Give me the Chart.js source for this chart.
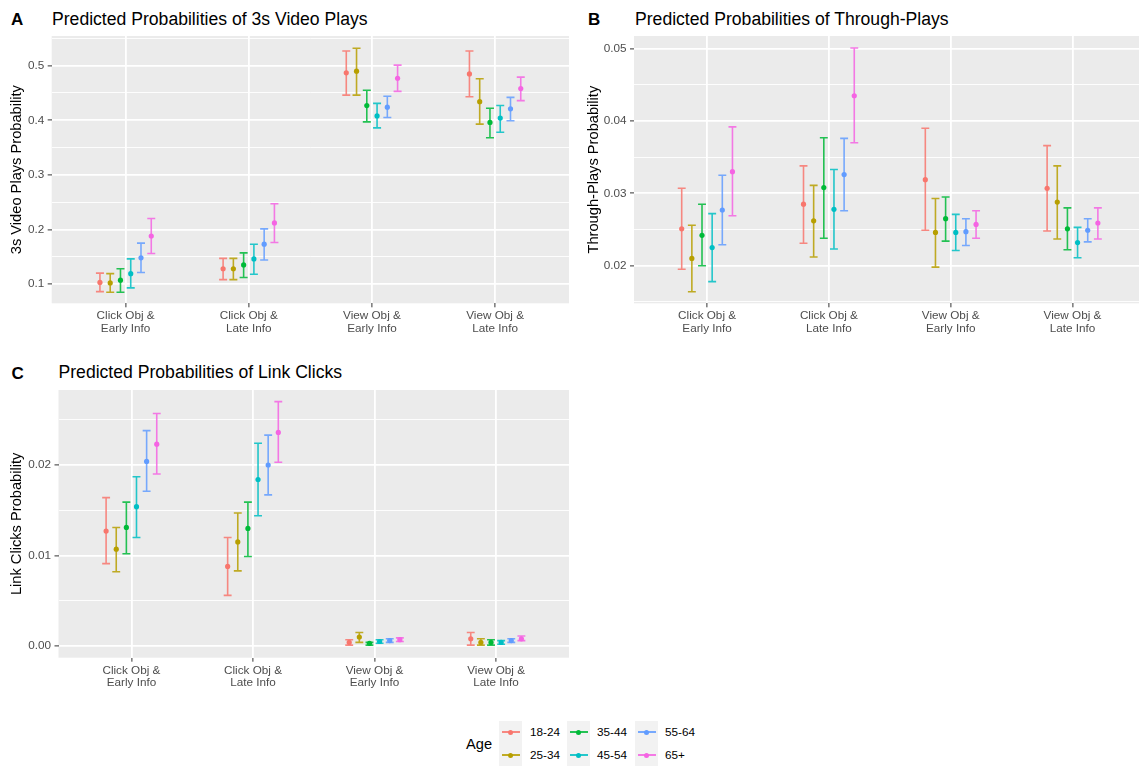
<!DOCTYPE html>
<html>
<head>
<meta charset="utf-8">
<script src="https://cdn.jsdelivr.net/npm/chart.js@4.4.1/dist/chart.umd.min.js"></script>
<style>
  body { margin: 0; width: 1143px; height: 766px; background: #fff; overflow: hidden; position: relative;
         font-family: "Liberation Sans", Arial, sans-serif; }
  canvas { position: absolute; }
  .tag { position: absolute; font-weight: bold; font-size: 17px; line-height: 1; color: #000; }
  .title { position: absolute; font-size: 17.6px; line-height: 1; color: #000; white-space: nowrap; }
  .lg-title { position: absolute; left: 466px; top: 737px; font-size: 14.67px; line-height: 1; }
  .lg-bg { position: absolute; top: 720.5px; width: 23px; height: 46px; background: #F2F2F2; }
  .lg-line { position: absolute; left: 2.5px; width: 18px; height: 1.6px; }
  .lg-dot { position: absolute; left: 9px; width: 5px; height: 5px; border-radius: 50%; }
  .lg-label { position: absolute; font-size: 11.73px; line-height: 1; color: #000; }
</style>
</head>
<body>
<div class="tag" style="left:11px; top:11.3px">A</div>
<div class="title" style="left:52px; top:10.8px">Predicted Probabilities of 3s Video Plays</div>
<div class="tag" style="left:588px; top:11.3px">B</div>
<div class="title" style="left:635px; top:10.8px">Predicted Probabilities of Through-Plays</div>
<div class="tag" style="left:11.5px; top:364.6px">C</div>
<div class="title" style="left:58.5px; top:364.1px">Predicted Probabilities of Link Clicks</div>

<canvas id="chartA" width="573" height="311" style="left:0; top:30px"></canvas>
<canvas id="chartB" width="567" height="311" style="left:576px; top:30px"></canvas>
<canvas id="chartC" width="573" height="311" style="left:0; top:384px"></canvas>

<div id="legend"></div>

<script>
const categories = [
  ["Click Obj &", "Early Info"],
  ["Click Obj &", "Late Info"],
  ["View Obj &", "Early Info"],
  ["View Obj &", "Late Info"]
];
const ageGroups = ["18-24", "25-34", "35-44", "45-54", "55-64", "65+"];
const ageColors = ["#F8766D", "#B79F00", "#00BA38", "#00BFC4", "#619CFF", "#F564E3"];

// rows = age group, columns = category
const playsEst = [
  [0.103, 0.128, 0.487, 0.485],
  [0.102, 0.128, 0.490, 0.434],
  [0.107, 0.135, 0.427, 0.396],
  [0.119, 0.146, 0.408, 0.404],
  [0.148, 0.173, 0.424, 0.421],
  [0.188, 0.212, 0.477, 0.458]
];
const playsLow = [
  [0.086, 0.108, 0.446, 0.443],
  [0.085, 0.108, 0.446, 0.393],
  [0.085, 0.112, 0.397, 0.368],
  [0.093, 0.118, 0.386, 0.378],
  [0.121, 0.144, 0.405, 0.399],
  [0.156, 0.176, 0.453, 0.436]
];
const playsHigh = [
  [0.120, 0.147, 0.527, 0.527],
  [0.119, 0.147, 0.532, 0.476],
  [0.128, 0.157, 0.455, 0.422],
  [0.146, 0.173, 0.431, 0.427],
  [0.175, 0.201, 0.444, 0.442],
  [0.220, 0.247, 0.501, 0.479]
];

const throughEst = [
  [0.0251, 0.0285, 0.0319, 0.0307],
  [0.0210, 0.0262, 0.0246, 0.0288],
  [0.0242, 0.0308, 0.0265, 0.0251],
  [0.0225, 0.0278, 0.0246, 0.0232],
  [0.0277, 0.0326, 0.0247, 0.0249],
  [0.0330, 0.0435, 0.0257, 0.0259]
];
const throughLow = [
  [0.0195, 0.0231, 0.0249, 0.0248],
  [0.0164, 0.0212, 0.0198, 0.0237],
  [0.0200, 0.0238, 0.0234, 0.0222],
  [0.0178, 0.0223, 0.0221, 0.0211],
  [0.0229, 0.0276, 0.0228, 0.0233],
  [0.0269, 0.0370, 0.0238, 0.0237]
];
const throughHigh = [
  [0.0307, 0.0338, 0.0390, 0.0366],
  [0.0256, 0.0311, 0.0293, 0.0338],
  [0.0285, 0.0377, 0.0295, 0.0280],
  [0.0272, 0.0333, 0.0271, 0.0253],
  [0.0325, 0.0376, 0.0265, 0.0265],
  [0.0392, 0.0501, 0.0276, 0.0280]
];

const clicksEst = [
  [0.0127, 0.0088, 0.0004, 0.0008],
  [0.0107, 0.0115, 0.0010, 0.0004],
  [0.0131, 0.0130, 0.0003, 0.0004],
  [0.0154, 0.0184, 0.0005, 0.0004],
  [0.0204, 0.0200, 0.0006, 0.0006],
  [0.0223, 0.0236, 0.0007, 0.0008]
];
const clicksLow = [
  [0.0091, 0.0056, 0.0001, 0.0001],
  [0.0082, 0.0083, 0.0004, 0.0001],
  [0.0102, 0.0099, 0.0001, 0.0001],
  [0.0120, 0.0144, 0.0003, 0.0002],
  [0.0171, 0.0167, 0.0004, 0.0004],
  [0.0190, 0.0203, 0.0005, 0.0006]
];
const clicksHigh = [
  [0.0164, 0.0120, 0.0007, 0.0015],
  [0.0131, 0.0147, 0.0015, 0.0008],
  [0.0159, 0.0159, 0.0004, 0.0007],
  [0.0187, 0.0224, 0.0007, 0.0006],
  [0.0238, 0.0233, 0.0008, 0.0008],
  [0.0257, 0.0270, 0.0009, 0.0011]
];

const playsTicks = [0.1, 0.2, 0.3, 0.4, 0.5];
const playsTickLabels = ["0.1", "0.2", "0.3", "0.4", "0.5"];
const throughTicks = [0.02, 0.03, 0.04, 0.05];
const throughTickLabels = ["0.02", "0.03", "0.04", "0.05"];
const clicksTicks = [0.00, 0.01, 0.02];
const clicksTickLabels = ["0.00", "0.01", "0.02"];

Chart.defaults.font.family = '"Liberation Sans", Arial, sans-serif';

const dodgeWidth = 0.5;
const capWidth = 0.065;

function withAlpha(hex, a) {
  const n = parseInt(hex.slice(1), 16);
  return `rgba(${n >> 16},${(n >> 8) & 255},${n & 255},${a})`;
}

// grey panel behind the grid
const panelBg = {
  id: 'panelBg',
  beforeDraw(chart) {
    const { ctx, chartArea: a } = chart;
    ctx.save();
    ctx.fillStyle = '#EBEBEB';
    ctx.fillRect(a.left, a.top, a.right - a.left, a.bottom - a.top);
    ctx.restore();
  }
};

// whiskers drawn under the points
const errorBars = {
  id: 'errorBars',
  beforeDatasetsDraw(chart) {
    const { ctx, scales: { x, y } } = chart;
    const half = (x.getPixelForValue(capWidth) - x.getPixelForValue(0)) / 2;
    chart.data.datasets.forEach(ds => {
      ctx.save();
      ctx.strokeStyle = withAlpha(ds.borderColor, 0.85);
      ctx.lineWidth = 1.6;
      ds.data.forEach(d => {
        const px = x.getPixelForValue(d.x);
        const top = y.getPixelForValue(d.hi);
        const bot = y.getPixelForValue(d.lo);
        ctx.beginPath();
        ctx.moveTo(px - half, top); ctx.lineTo(px + half, top);
        ctx.moveTo(px, top); ctx.lineTo(px, bot);
        ctx.moveTo(px - half, bot); ctx.lineTo(px + half, bot);
        ctx.stroke();
      });
      ctx.restore();
    });
  }
};

function buildYTicks(majors, min, max) {
  const step = majors[1] - majors[0];
  const ticks = majors.map(v => ({ value: v, isMajor: true }));
  for (let k = -1; k < majors.length; k++) {
    const v = majors[0] + (k + 0.5) * step;
    if (v >= min && v <= max) ticks.push({ value: v, isMajor: false });
  }
  return ticks.sort((p, q) => p.value - q.value);
}

function makePanel(id, est, low, high, opts) {
  const datasets = ageGroups.map((age, i) => ({
    label: age,
    borderColor: ageColors[i],
    backgroundColor: ageColors[i],
    pointRadius: 2.6,
    pointBorderWidth: 0,
    data: categories.map((c, j) => ({
      x: j + 1 + (i - 2.5) * dodgeWidth / ageGroups.length,
      y: est[i][j], lo: low[i][j], hi: high[i][j]
    }))
  }));

  return new Chart(document.getElementById(id), {
    type: 'scatter',
    data: { datasets },
    options: {
      responsive: false,
      animation: false,
      devicePixelRatio: 1,
      events: [],
      layout: { padding: { top: 6, left: 0, right: 0, bottom: 0 } },
      plugins: { legend: { display: false }, tooltip: { enabled: false } },
      scales: {
        x: {
          type: 'linear',
          min: 0.4,
          max: opts.xMax,
          afterBuildTicks: s => { s.ticks = categories.map((c, j) => ({ value: j + 1 })); },
          afterFit: s => {
            s.height = opts.xAxisHeight;
            s.paddingLeft = 0; s.paddingRight = 0;
          },
          border: { display: false },
          grid: { color: '#FFFFFF', lineWidth: 1.8, tickLength: 4, tickColor: '#333333', tickWidth: 1 },
          ticks: {
            autoSkip: false, maxRotation: 0, padding: 2.5, color: '#4D4D4D',
            font: { size: 11.73, lineHeight: 1.07 },
            callback: v => categories[Math.round(v) - 1]
          }
        },
        y: {
          min: opts.yMin,
          max: opts.yMax,
          afterBuildTicks: s => { s.ticks = buildYTicks(opts.ticks, opts.yMin, opts.yMax); },
          afterFit: s => {
            s.width = opts.yAxisWidth;
            s.paddingTop = 0; s.paddingBottom = 0;
          },
          border: { display: false },
          grid: {
            color: '#FFFFFF',
            lineWidth: c => (c.tick && c.tick.isMajor ? 1.8 : 0.9),
            tickLength: 4,
            tickColor: c => (c.tick && c.tick.isMajor ? '#333333' : 'rgba(0,0,0,0)'),
            tickWidth: 1
          },
          ticks: {
            autoSkip: false, padding: 3.5, color: '#4D4D4D', font: { size: 11.73 },
            callback: (v, i, ticks) => {
              const k = opts.ticks.findIndex(t => Math.abs(t - v) < 1e-9);
              return ticks[i].isMajor && k >= 0 ? opts.tickLabels[k] : '';
            }
          },
          title: {
            display: true, text: opts.yTitle, color: '#000000',
            font: { size: 14.67 }, padding: { top: opts.titlePad, bottom: 0 }
          }
        }
      }
    },
    plugins: [panelBg, errorBars]
  });
}

makePanel('chartA', playsEst, playsLow, playsHigh, {
  yMin: 0.0647, yMax: 0.5544, ticks: playsTicks, tickLabels: playsTickLabels,
  yTitle: '3s Video Plays Probability', yAxisWidth: 51.7, xAxisHeight: 37.7, xMax: 4.6, titlePad: 8.2
});

makePanel('chartB', throughEst, throughLow, throughHigh, {
  yMin: 0.0148, yMax: 0.05176, ticks: throughTicks, tickLabels: throughTickLabels,
  yTitle: 'Through-Plays Probability', yAxisWidth: 58, xAxisHeight: 37.7, xMax: 4.546, titlePad: 8.7
});

makePanel('chartC', clicksEst, clicksLow, clicksHigh, {
  yMin: -0.00129, yMax: 0.02829, ticks: clicksTicks, tickLabels: clicksTickLabels,
  yTitle: 'Link Clicks Probability', yAxisWidth: 58.5, xAxisHeight: 37.3, xMax: 4.6, titlePad: 8.2
});

// Age legend: three columns of two keys
const legend = document.getElementById('legend');
legend.innerHTML = '<div class="lg-title">Age</div>';
const colLefts = [499, 567, 635];
const labelLefts = [530, 597, 665];
const rowCenters = [732, 755];
ageGroups.forEach((age, i) => {
  const col = Math.floor(i / 2), row = i % 2;
  if (row === 0) {
    legend.insertAdjacentHTML('beforeend', `<div class="lg-bg" style="left:${colLefts[col]}px"></div>`);
  }
  const cy = rowCenters[row] - 720.5;
  const bg = legend.querySelectorAll('.lg-bg')[col];
  bg.insertAdjacentHTML('beforeend',
    `<div class="lg-line" style="top:${cy - 0.8}px; background:${withAlpha(ageColors[i], 0.85)}"></div>` +
    `<div class="lg-dot" style="top:${cy - 2.5}px; background:${ageColors[i]}"></div>`);
  legend.insertAdjacentHTML('beforeend',
    `<div class="lg-label" style="left:${labelLefts[col]}px; top:${rowCenters[row] - 5.7}px">${age}</div>`);
});
</script>
</body>
</html>
